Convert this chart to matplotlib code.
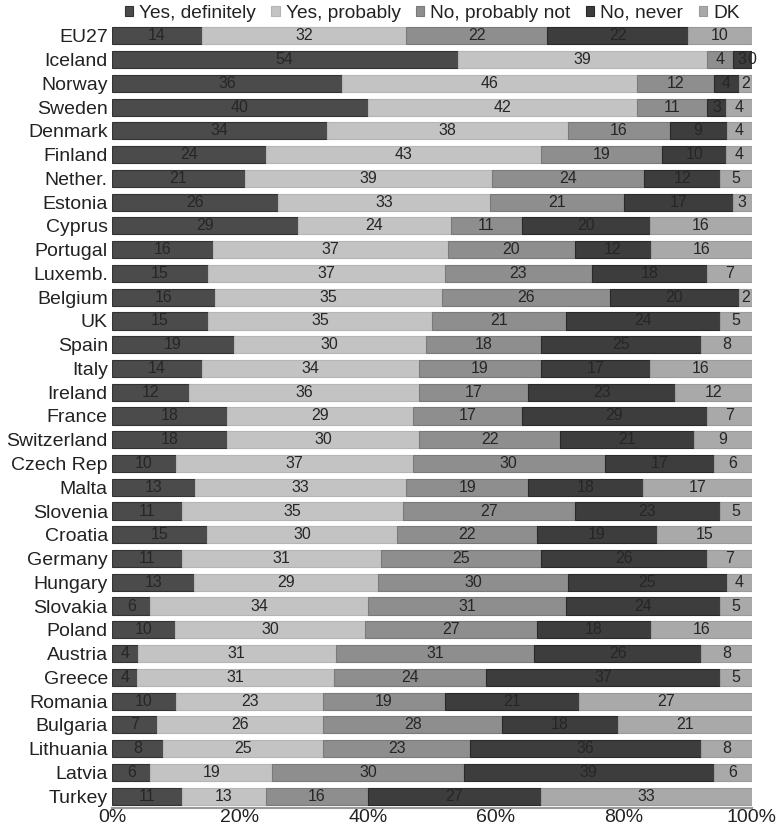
import matplotlib.pyplot as plt
import numpy as np

plt.rcParams['font.family'] = ['Liberation Sans', 'DejaVu Sans']

countries = ['EU27', 'Iceland', 'Norway', 'Sweden', 'Denmark', 'Finland', 'Nether.',
             'Estonia', 'Cyprus', 'Portugal', 'Luxemb.', 'Belgium', 'UK', 'Spain',
             'Italy', 'Ireland', 'France', 'Switzerland', 'Czech Rep', 'Malta',
             'Slovenia', 'Croatia', 'Germany', 'Hungary', 'Slovakia', 'Poland',
             'Austria', 'Greece', 'Romania', 'Bulgaria', 'Lithuania', 'Latvia', 'Turkey']
series = ['Yes, definitely', 'Yes, probably', 'No, probably not', 'No, never', 'DK']

yes_def = [14, 54, 36, 40, 34, 24, 21, 26, 29, 16, 15, 16, 15, 19, 14, 12, 18, 18, 10, 13,
           11, 15, 11, 13, 6, 10, 4, 4, 10, 7, 8, 6, 11]
yes_prob = [32, 39, 46, 42, 38, 43, 39, 33, 24, 37, 37, 35, 35, 30, 34, 36, 29, 30, 37, 33,
            35, 30, 31, 29, 34, 30, 31, 31, 23, 26, 25, 19, 13]
no_prob = [22, 4, 12, 11, 16, 19, 24, 21, 11, 20, 23, 26, 21, 18, 19, 17, 17, 22, 30, 19,
           27, 22, 25, 30, 31, 27, 31, 24, 19, 28, 23, 30, 16]
no_never = [22, 3, 4, 3, 9, 10, 12, 17, 20, 12, 18, 20, 24, 25, 17, 23, 29, 21, 17, 18,
            23, 19, 26, 25, 24, 18, 26, 37, 21, 18, 36, 39, 27]
dk = [10, 0, 2, 4, 4, 4, 5, 3, 16, 16, 7, 2, 5, 8, 16, 12, 7, 9, 6, 17,
      5, 15, 7, 4, 5, 16, 8, 5, 27, 21, 8, 6, 33]

colors = ['#4b4b4b', '#c3c3c3', '#8e8e8e', '#3d3d3d', '#a9a9a9']
edges = ['#333333', '#b5b5b5', '#7a7a7a', '#2a2a2a', '#9a9a9a']

data = np.array([yes_def, yes_prob, no_prob, no_never, dk], dtype=float)
pct = data / data.sum(axis=0) * 100

fig = plt.figure(figsize=(7.79, 8.27), dpi=100)
ax = fig.add_axes([0.1438, 0.023, 0.8215, 0.948])

y = np.arange(len(countries))
left = np.zeros(len(countries))
for i, name in enumerate(series):
    ax.barh(y, pct[i], left=left, height=0.72, color=colors[i],
            edgecolor=edges[i], linewidth=0.8, label=name)
    for j in range(len(countries)):
        cx = left[j] + pct[i][j] / 2
        ax.text(cx, y[j], str(int(data[i][j])), ha='center', va='center',
                fontsize=11.5, color='#262626')
    left += pct[i]

ax.set_ylim(len(countries) - 0.5, -0.5)
ax.set_xlim(0, 100)
ax.set_yticks(y)
ax.set_yticklabels(countries, fontsize=14, color='#222222')
ax.set_xticks([0, 20, 40, 60, 80, 100])
ax.set_xticklabels(['0%', '20%', '40%', '60%', '80%', '100%'], fontsize=14, color='#222222')
ax.tick_params(axis='y', length=0, pad=3)
ax.tick_params(axis='x', length=0, pad=1)
for s in ['top', 'right', 'left']:
    ax.spines[s].set_visible(False)
ax.spines['bottom'].set_color('#999999')
ax.spines['bottom'].set_linewidth(1.5)

ax.legend(loc='lower center', bbox_to_anchor=(0.5, 0.993), ncol=5, frameon=False,
          fontsize=13.8, handlelength=0.45, handleheight=0.45, handletextpad=0.3,
          columnspacing=0.8, borderaxespad=0, labelcolor='#222222')

fig.savefig('out.png', dpi=100)
